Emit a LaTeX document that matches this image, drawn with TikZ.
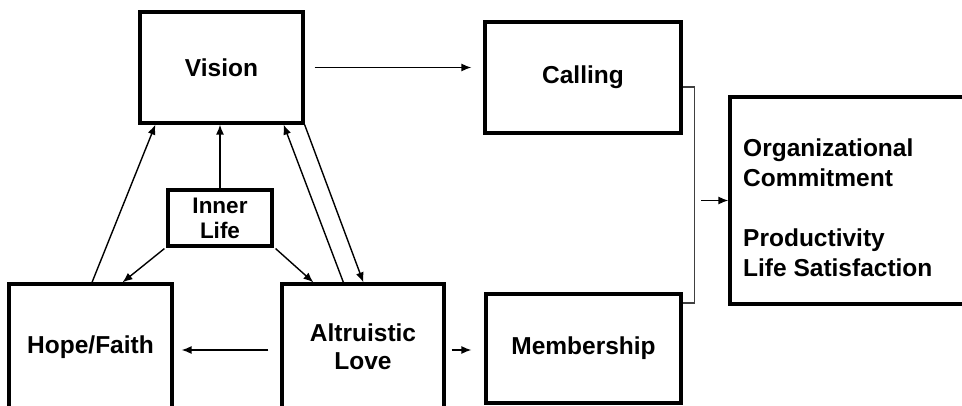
\documentclass[tikz,border=0pt]{standalone}
\usepackage{fontspec}
\setmainfont{Liberation Sans}
\usetikzlibrary{arrows.meta}
\begin{document}
\begin{tikzpicture}[x=1pt,y=-1pt,
 box/.style={draw, line width=3.2pt, rectangle, inner sep=0pt, align=center,
   font=\fontsize{24.5}{28}\selectfont\bfseries},
 arr/.style={line width=1.4pt, -{Latex[length=10pt,width=8pt]}},
 bracketline/.style={line width=1.2pt, draw=black!75},
]
\useasboundingbox (0,0) rectangle (962,406);
\clip (0,0) rectangle (962,406);
\node[box, minimum width=163pt, minimum height=111pt] (vision) at (221.5,67.5) {Vision};
\node[box, minimum width=196pt, minimum height=111pt] (calling) at (583,77.5) {Calling};
\node[box, minimum width=104pt, minimum height=56pt, font=\fontsize{22.5}{25}\selectfont\bfseries] (inner) at (220,218) {Inner\\Life};
\node[box, minimum width=163pt, minimum height=126pt] (hope) at (90.5,347) {Hope/Faith};
\node[box, minimum width=162pt, minimum height=126pt] (alt) at (363,347) {Altruistic\\Love};
\node[box, minimum width=195pt, minimum height=109pt] (memb) at (583.5,348.5) {Membership};
\node[box, minimum width=245pt, minimum height=207pt] (outcome) at (852.5,200.5) {};
\node[anchor=north west, inner sep=0pt, align=left,
  font=\fontsize{24.5}{30}\selectfont\bfseries] (outtext) at (743,138.5)
  {Organizational\\Commitment\\[30pt]Productivity\\Life Satisfaction};

% connectors
\draw[arr] ([xshift=10pt]vision.east) -- ([xshift=-12pt]vision.east -| calling.west);
\draw[arr] ([xshift=1.5pt]hope.north) -- ([xshift=17pt]vision.south west);
\draw[arr] (inner.north) -- (inner.north |- vision.south);
\draw[arr] ([xshift=-2pt,yshift=-1pt]inner.south west) -- ([xshift=32pt]hope.north);
\draw[arr] ([xshift=2pt,yshift=-1pt]inner.south east) -- ([xshift=33pt]alt.north west);
\draw[arr] ([xshift=63pt]alt.north west) -- ([xshift=-21pt]vision.south east);
\draw[arr] (vision.south east) -- ([xshift=83pt]alt.north west);
\draw[arr] ([xshift=-12pt,yshift=-3pt]alt.west) -- ([xshift=8pt,yshift=-3pt]alt.west -| hope.east);
\draw[arr] ([xshift=6pt,yshift=-3pt]alt.east) -- ([xshift=-13pt,yshift=-3pt]alt.east -| memb.west);
\draw[bracketline] ([yshift=-9.5pt]calling.east) -- ++(12,0) -- ++(0,216) -- ++(-12,0);
\draw[arr] ([xshift=-27pt]outcome.west) -- (outcome.west);
\end{tikzpicture}
\end{document}
